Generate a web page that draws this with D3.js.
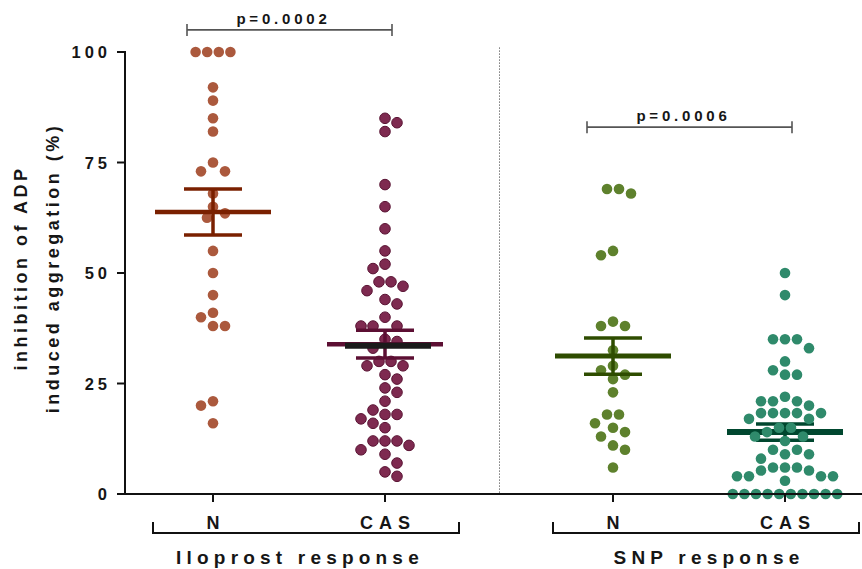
<!DOCTYPE html>
<html><head><meta charset="utf-8">
<script src="https://cdn.jsdelivr.net/npm/d3@7"></script>
<style>
body{margin:0;background:#fff}
svg{display:block}
text{font-family:"Liberation Sans",Arial,sans-serif;font-weight:bold;fill:#161616}
</style>
</head><body>
<svg id="c" width="862" height="569"></svg>
<script>
// ---- data ----
const groups = ["Iloprost response", "SNP response"];
const categories = ["N", "CAS"];
const yTicks = [0, 25, 50, 75, 100];
const iloprostN = [100,100,100,100,92,89,85,82,75,73,73,68,65,63.5,62.5,55,50,45,41,40,38,38,21,20,16];
const iloprostCAS = [85,84,82,70,65,60,55,52,51,48,48,47,46,44,43,40,38,38,38,35,34.5,33,29,30,30,29,27,26,24,23,21,19,18,17,18,16,15,12,12,12,11,10,9,7,5,4];
const snpN = [69,68,69,55,54,39,38,38,32.5,29,27,28,26,23,18,18,15,16,13,14,11,10,6];
const snpCAS = [50,45,35,35,35,33,30,28,27,27,22,21,21,21,20,18.3,18.3,18.3,18.3,18.3,17,17,15,15,14,13,13,12,10,10,9,9,8,6,6,6,5.3,5.3,4,4,4,4,3,0,0,0,0,0,0,0,0,0,0];
const means = [63.8, 33.9, 31.2, 14.0];
const sems = [5.2, 3.15, 4.1, 1.85];
const pLabels = ["p=0.0002", "p=0.0006"];
const pLevels = [105, 83];

const series = [
  {g: groups[0], c: categories[0], vals: iloprostN, i: 0},
  {g: groups[0], c: categories[1], vals: iloprostCAS, i: 1},
  {g: groups[1], c: categories[0], vals: snpN, i: 2},
  {g: groups[1], c: categories[1], vals: snpCAS, i: 3}
];
const dotFill = ["#ab593d", "#7e2a50", "#5e812d", "#2f8a6b"];
const dotStroke = ["none", "#5a1434", "none", "none"];
const barColor = ["#7a2000", "#5c0f33", "#2e4c00", "#00472f"];
const meanWidth = [4.5, 4.5, 5, 6];
const groupLabelShift = [-6, 3];

// ---- layout ----
const svg = d3.select("#c");
const W = 862, H = 569;
const x0 = 125;
const y = d3.scaleLinear().domain([0, 100]).range([494, 52]);
const gx = d3.scaleBand().domain(groups).range([99, 899]);
const cx = d3.scalePoint().domain(categories).range([-86, 86]);
const X = (g, c) => gx(g) + gx.bandwidth() / 2 + cx(c);

// dotted separator
svg.append("line")
  .attr("x1", gx(groups[1]) + 0.5).attr("x2", gx(groups[1]) + 0.5)
  .attr("y1", y(101)).attr("y2", y(0))
  .attr("stroke", "#333").attr("stroke-width", 1).attr("stroke-dasharray", "1,2");

// beeswarm: identical values try a centred row, otherwise each dot is placed greedily
const R = 5.3, D = 12, step = D / 2;
function swarm(vals, cxp) {
  const rows = d3.groups(vals, v => v).map(([v, arr]) => ({v, n: arr.length, py: y(v)}))
    .sort((a, b) => a.py - b.py);
  const placed = [];
  const free = (px, py) => placed.every(q => Math.hypot(q.px - px, q.py - py) >= D - 0.5);
  const bal = () => d3.sum(placed, q => q.px - cxp);
  for (const r of rows) {
    if (r.n > 1) {
      const sp = r.n > 3 ? 11.6 : D;
      const base = d3.range(r.n).map(j => (j - (r.n - 1) / 2) * sp);
      const hit = [0, step, -step].find(s => base.every(b => free(cxp + b + s, r.py)));
      if (hit !== undefined) {
        base.forEach(b => placed.push({v: r.v, px: cxp + b + hit, py: r.py}));
        continue;
      }
    }
    for (let j = 0; j < r.n; j++) {
      for (let k = 0; k < 60; k++) {
        const sgn = bal() > 0 ? -1 : 1;
        const cands = k === 0 ? [0] : [sgn * k * step, -sgn * k * step];
        const hit = cands.find(s => free(cxp + s, r.py));
        if (hit !== undefined) { placed.push({v: r.v, px: cxp + hit, py: r.py}); break; }
      }
    }
  }
  return placed;
}

function drawDots(s) {
  const c = X(s.g, s.c);
  svg.append("g").selectAll("circle").data(swarm(s.vals, c)).join("circle")
    .attr("cx", d => d.px).attr("cy", d => d.py).attr("r", R)
    .attr("fill", dotFill[s.i]).attr("stroke", dotStroke[s.i]).attr("stroke-width", 1);
}
function drawBars(s) {
  const c = X(s.g, s.c), m = means[s.i], e = sems[s.i], col = barColor[s.i];
  const g = svg.append("g").attr("stroke", col);
  g.append("line").attr("x1", c).attr("x2", c).attr("y1", y(m + e)).attr("y2", y(m - e)).attr("stroke-width", 3.5);
  [m + e, m - e].forEach(v => g.append("line").attr("x1", c - 29).attr("x2", c + 29)
    .attr("y1", y(v)).attr("y2", y(v)).attr("stroke-width", 3.5));
  g.append("line").attr("x1", c - 58).attr("x2", c + 58).attr("y1", y(m)).attr("y2", y(m))
    .attr("stroke-width", meanWidth[s.i]);
  if (s.i === 1) {
    svg.append("line").attr("x1", c - 40).attr("x2", c + 46).attr("y1", y(m) + 1.5).attr("y2", y(m) + 1.5)
      .attr("stroke", "#1b1b1b").attr("stroke-width", 6);
  }
}
series.forEach(s => {
  if (s.i === 3) { drawBars(s); drawDots(s); }
  else { drawDots(s); drawBars(s); }
});

// axes
const yAxis = svg.append("g");
yAxis.append("line").attr("x1", x0).attr("x2", x0).attr("y1", y(100) - 1).attr("y2", y(0) + 1)
  .attr("stroke", "#111").attr("stroke-width", 2);
yTicks.forEach(t => {
  yAxis.append("line").attr("x1", x0 - 8).attr("x2", x0).attr("y1", y(t)).attr("y2", y(t))
    .attr("stroke", "#111").attr("stroke-width", 2);
  yAxis.append("text").attr("x", x0 - 14).attr("y", y(t) + 6).attr("text-anchor", "end")
    .attr("font-size", 16.5).attr("letter-spacing", 4).text(String(t));
});
svg.append("line").attr("x1", x0 - 1).attr("x2", W).attr("y1", y(0)).attr("y2", y(0))
  .attr("stroke", "#111").attr("stroke-width", 2);
series.forEach(s => {
  const c = X(s.g, s.c);
  svg.append("line").attr("x1", c).attr("x2", c).attr("y1", y(0)).attr("y2", y(0) + 8)
    .attr("stroke", "#111").attr("stroke-width", 2);
  svg.append("text").attr("x", c + 3).attr("y", 529).attr("text-anchor", "middle")
    .attr("font-size", 18).attr("letter-spacing", 6).text(s.c);
});

// group brackets
groups.forEach((g, i) => {
  const a = gx(g) + 54, b = gx(g) + 360;
  svg.append("path").attr("d", `M${a},522V533H${b}V522`).attr("fill", "none")
    .attr("stroke", "#111").attr("stroke-width", 2);
  svg.append("text").attr("x", (a + b) / 2 + groupLabelShift[i]).attr("y", 564).attr("text-anchor", "middle")
    .attr("font-size", 19).attr("letter-spacing", 5.2).text(g);
});

// y title
const ty = svg.append("g").attr("transform", "translate(0,268) rotate(-90)");
ty.append("text").attr("x", 0).attr("y", 27).attr("text-anchor", "middle")
  .attr("font-size", 18).attr("letter-spacing", 3.5).text("inhibition of ADP");
ty.append("text").attr("x", 0).attr("y", 59).attr("text-anchor", "middle")
  .attr("font-size", 18).attr("letter-spacing", 3.5).text("induced aggregation (%)");

// p-value brackets
groups.forEach((g, i) => {
  const a = X(g, categories[0]) - 26, b = X(g, categories[1]) + 7;
  const yy = y(pLevels[i]);
  svg.append("path").attr("d", `M${a},${yy - 6}V${yy + 6}M${a},${yy}H${b}M${b},${yy - 6}V${yy + 6}`)
    .attr("fill", "none").attr("stroke", "#555").attr("stroke-width", 1.6);
  svg.append("text").attr("x", (a + b) / 2 - 6).attr("y", yy - 6).attr("text-anchor", "middle")
    .attr("font-size", 15).attr("letter-spacing", 3.8).text(pLabels[i]);
});
</script>
</body></html>
